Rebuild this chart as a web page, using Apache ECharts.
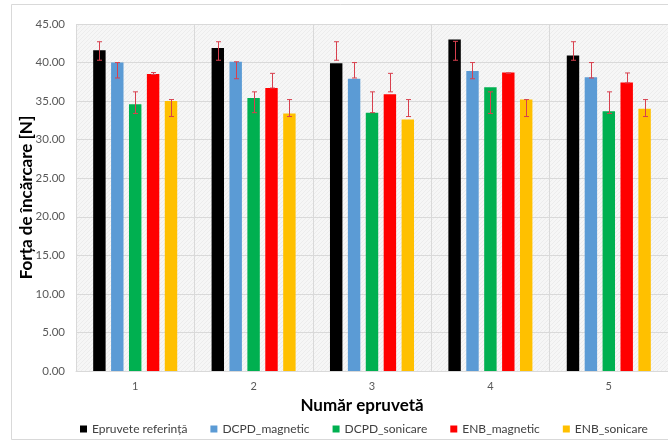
<!DOCTYPE html>
<html>
<head>
<meta charset="utf-8">
<script src="https://cdn.jsdelivr.net/npm/echarts@6/dist/echarts.min.js"></script>
<style>html,body{margin:0;padding:0;background:#fff;}#c{width:668px;height:442px;}</style>
</head>
<body>
<div id="c"></div>
<script>
const categories = ['1', '2', '3', '4', '5'];
const seriesNames = ['Epruvete referință', 'DCPD_magnetic', 'DCPD_sonicare', 'ENB_magnetic', 'ENB_sonicare'];
const refValues = [41.6, 41.9, 39.9, 43.0, 40.9];
const dcpdMagValues = [40.0, 40.1, 37.9, 38.9, 38.1];
const dcpdSonValues = [34.6, 35.4, 33.5, 36.8, 33.7];
const enbMagValues = [38.5, 36.7, 35.9, 38.7, 37.4];
const enbSonValues = [35.0, 33.4, 32.6, 35.2, 34.0];
const refErrLow = [40.3, 40.3, 40.3, 40.3, 40.3];
const refErrHigh = [42.7, 42.7, 42.7, 42.75, 42.7];
const dcpdMagErrLow = [38.0, 37.9, 38.0, 37.9, 38.0];
const dcpdMagErrHigh = [40.0, 40.1, 40.0, 40.0, 40.0];
const dcpdSonErrLow = [33.4, 33.5, 33.5, 33.4, 33.4];
const dcpdSonErrHigh = [36.2, 36.2, 36.2, 36.2, 36.2];
const enbMagErrLow = [38.45, 36.7, 36.2, 38.6, 37.35];
const enbMagErrHigh = [38.7, 38.6, 38.6, 38.65, 38.65];
const enbSonErrLow = [33.0, 33.0, 33.0, 33.0, 33.0];
const enbSonErrHigh = [35.2, 35.2, 35.2, 35.2, 35.2];
const yTicks = { min: 0, max: 45, interval: 5 };

const values = [refValues, dcpdMagValues, dcpdSonValues, enbMagValues, enbSonValues];
const errLow = [refErrLow, dcpdMagErrLow, dcpdSonErrLow, enbMagErrLow, enbSonErrLow];
const errHigh = [refErrHigh, dcpdMagErrHigh, dcpdSonErrHigh, enbMagErrHigh, enbSonErrHigh];
const colors = ['#000000', '#5b9bd5', '#00b050', '#ff0000', '#ffc000'];
const BAR_W = 0.105, BAR_GAP = 0.44;
const FONT = 'Lato';

// light hatch pattern for plot background
const pc = document.createElement('canvas');
pc.width = 4; pc.height = 4;
const pctx = pc.getContext('2d');
pctx.fillStyle = '#f6f6f6'; pctx.fillRect(0, 0, 4, 4);
pctx.fillStyle = '#ececec';
for (let i = 0; i < 4; i++) pctx.fillRect(i, 3 - i, 1, 1);

const series = [];
values.forEach((v, si) => {
  series.push({
    name: seriesNames[si], type: 'bar', data: v,
    barWidth: (BAR_W * 100) + '%', barGap: (BAR_GAP * 100) + '%',
    itemStyle: { color: colors[si] }, z: 2
  });
});
values.forEach((v, si) => {
  series.push({
    type: 'custom', name: 'err' + si, z: 5, silent: true,
    data: categories.map((c, i) => [i, errLow[si][i], errHigh[si][i]]),
    encode: { x: 0, y: [1, 2] },
    renderItem: function (params, api) {
      const idx = api.value(0);
      const lo = api.coord([idx, api.value(1)]);
      const hi = api.coord([idx, api.value(2)]);
      const band = api.size([1, 0])[0];
      const w = band * BAR_W;
      const x = Math.round(lo[0] + (si - 2) * w * (1 + BAR_GAP)) + 0.5;
      const cap = 2.5;
      const st = { stroke: '#d8404e', lineWidth: 1 };
      return {
        type: 'group', children: [
          { type: 'line', shape: { x1: x, y1: lo[1], x2: x, y2: hi[1] }, style: st },
          { type: 'line', shape: { x1: x - cap, y1: lo[1], x2: x + cap, y2: lo[1] }, style: st },
          { type: 'line', shape: { x1: x - cap, y1: hi[1], x2: x + cap, y2: hi[1] }, style: st }
        ]
      };
    }
  });
});

const chart = echarts.init(document.getElementById('c'));
chart.setOption({
  backgroundColor: '#ffffff',
  animation: false,
  textStyle: { fontFamily: FONT },
  graphic: [{
    type: 'rect', shape: { x: 11.5, y: 4.5, width: 700, height: 435 },
    style: { fill: 'none', stroke: '#d9d9d9', lineWidth: 1 }, z: -10
  }],
  grid: {
    left: 76, top: 24, right: -3, bottom: 71,
    show: true, borderWidth: 0,
    backgroundColor: { image: pc, repeat: 'repeat' }
  },
  legend: {
    data: seriesNames, left: 75, top: 418, width: 620,
    icon: 'rect', itemWidth: 7, itemHeight: 7, itemGap: 23,
    textStyle: { fontFamily: FONT, fontSize: 12, color: '#404040' }
  },
  xAxis: {
    type: 'category', data: categories,
    name: 'Număr epruvetă', nameLocation: 'middle', nameGap: 26, nameMoveOverlap: false,
    nameTextStyle: { fontFamily: FONT, fontSize: 17, fontWeight: 'bold', color: '#000', padding: [0, 20, 0, 0] },
    axisLine: { show: true, lineStyle: { color: '#d9d9d9' } },
    axisTick: { show: false },
    axisLabel: { fontFamily: FONT, fontSize: 11, color: '#595959', margin: 10 },
    splitLine: { show: true, lineStyle: { color: '#d9d9d9', width: 1 } }
  },
  yAxis: {
    type: 'value', min: yTicks.min, max: yTicks.max, interval: yTicks.interval,
    name: 'Forța de încărcare [N]', nameLocation: 'middle', nameGap: 41, nameMoveOverlap: false,
    nameTextStyle: { fontFamily: FONT, fontSize: 17, fontWeight: 'bold', color: '#000' },
    axisLine: { show: false }, axisTick: { show: false },
    axisLabel: { fontFamily: FONT, fontSize: 11.5, color: '#595959', margin: 11, formatter: v => v.toFixed(2) },
    splitLine: { lineStyle: { color: '#d9d9d9', width: 1 } }
  },
  series: series
});
</script>
</body>
</html>
